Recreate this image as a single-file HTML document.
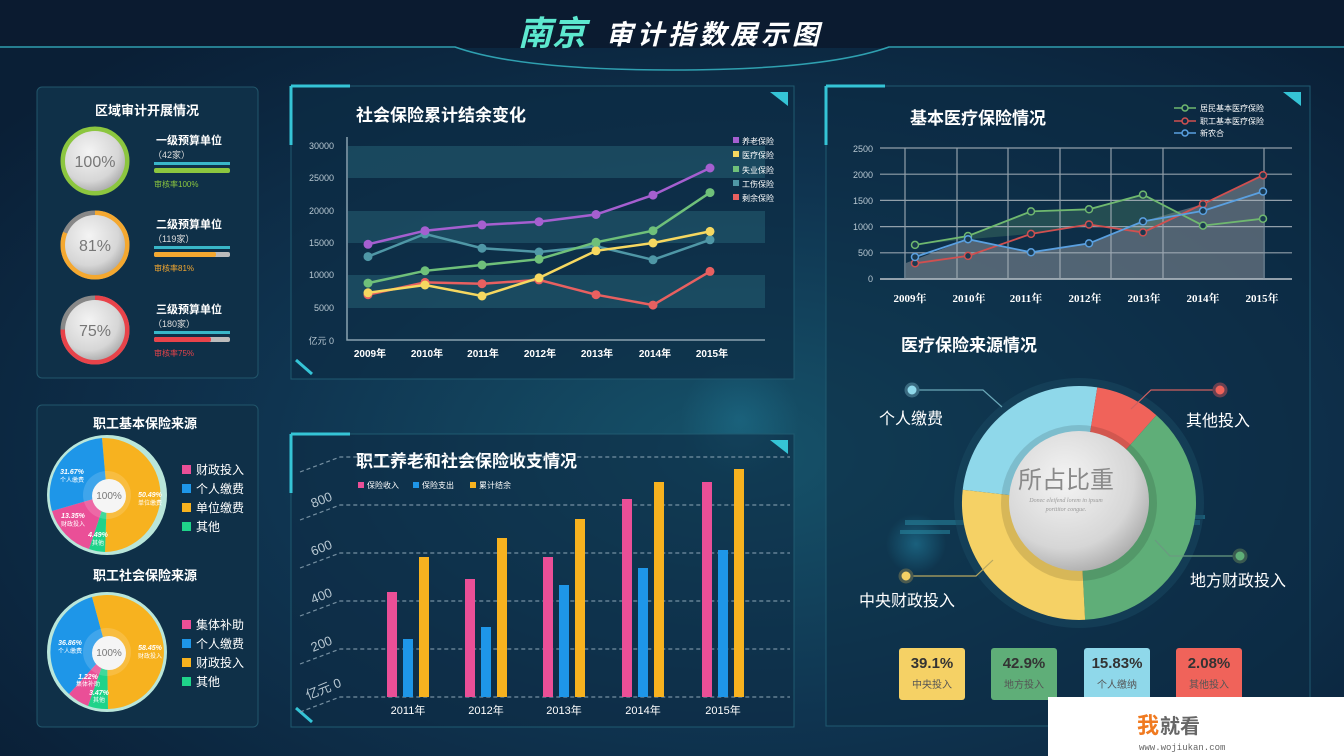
<!DOCTYPE html>
<html><head><meta charset="utf-8"><style>
html,body{margin:0;padding:0;width:1344px;height:756px;overflow:hidden;background:#0c2238}
svg{display:block;font-family:"Liberation Sans","Noto Sans CJK SC",sans-serif}
</style></head><body>
<svg width="1344" height="756" viewBox="0 0 1344 756" xmlns="http://www.w3.org/2000/svg">
<defs>
<radialGradient id="bg" cx="0.55" cy="0.6" r="0.7">
<stop offset="0" stop-color="#16536a"/><stop offset="0.5" stop-color="#0f3450"/><stop offset="1" stop-color="#0a1f36"/>
</radialGradient>
<radialGradient id="ball" cx="0.4" cy="0.35" r="0.7">
<stop offset="0" stop-color="#f4f4f4"/><stop offset="0.7" stop-color="#d6d6d6"/><stop offset="1" stop-color="#a9a9a9"/>
</radialGradient>
<radialGradient id="glow" cx="0.5" cy="0.5" r="0.5">
<stop offset="0" stop-color="#3ad6ff" stop-opacity="0.9"/><stop offset="1" stop-color="#3ad6ff" stop-opacity="0"/>
</radialGradient>
</defs>
<rect width="1344" height="756" fill="url(#bg)"/>
<rect width="1344" height="48" fill="#0b1b30"/>
<path d="M0 47 L455 47 Q520 70 672 70 Q824 70 889 47 L1344 47" fill="none" stroke="#2fa0b0" stroke-width="1.5"/>
<text x="518" y="45" font-size="34" font-weight="bold" font-style="italic" fill="#5de8cf">南京</text>
<text x="606" y="44" font-size="27" font-weight="bold" font-style="italic" fill="#fff" letter-spacing="4">审计指数展示图</text>

<circle cx="916" cy="544" r="30" fill="url(#glow)" opacity="0.7"/>
<circle cx="740" cy="420" r="60" fill="url(#glow)" opacity="0.15"/>

<!-- Left panel 1 -->
<rect x="37" y="87" width="221" height="291" rx="5" fill="#0f3048" stroke="#22566b"/>
<text x="147" y="115" font-size="13" font-weight="bold" fill="#fff" text-anchor="middle">区域审计开展情况</text>
<g>
<circle cx="95" cy="161" r="32" fill="none" stroke="#8cc63f" stroke-width="5"/>
<circle cx="95" cy="161" r="30" fill="url(#ball)"/>
<text x="95" y="167" font-size="16" fill="#777" text-anchor="middle">100%</text>
<text x="156" y="144" font-size="11" font-weight="bold" fill="#fff">一级预算单位</text>
<text x="153" y="158" font-size="9" fill="#ddd">（42家）</text>
<rect x="154" y="162" width="76" height="3" fill="#39b6c8"/>
<rect x="154" y="168" width="76" height="5" rx="2" fill="#8cc63f"/>
<text x="154" y="187" font-size="8" fill="#8cc63f">审核率100%</text>

<circle cx="95" cy="245" r="32" fill="none" stroke="#888" stroke-width="5"/>
<circle cx="95" cy="245" r="32" fill="none" stroke="#f4a830" stroke-width="5" stroke-dasharray="163 250" transform="rotate(-90 95 245)"/>
<circle cx="95" cy="245" r="30" fill="url(#ball)"/>
<text x="95" y="251" font-size="16" fill="#777" text-anchor="middle">81%</text>
<text x="156" y="228" font-size="11" font-weight="bold" fill="#fff">二级预算单位</text>
<text x="153" y="242" font-size="9" fill="#ddd">（119家）</text>
<rect x="154" y="246" width="76" height="3" fill="#39b6c8"/>
<rect x="154" y="252" width="76" height="5" rx="2" fill="#bbb"/><rect x="154" y="252" width="62" height="5" rx="2" fill="#f4a830"/>
<text x="154" y="271" font-size="8" fill="#f4a830">审核率81%</text>

<circle cx="95" cy="330" r="32" fill="none" stroke="#888" stroke-width="5"/>
<circle cx="95" cy="330" r="32" fill="none" stroke="#e8434a" stroke-width="5" stroke-dasharray="151 250" transform="rotate(-90 95 330)"/>
<circle cx="95" cy="330" r="30" fill="url(#ball)"/>
<text x="95" y="336" font-size="16" fill="#777" text-anchor="middle">75%</text>
<text x="156" y="313" font-size="11" font-weight="bold" fill="#fff">三级预算单位</text>
<text x="153" y="327" font-size="9" fill="#ddd">（180家）</text>
<rect x="154" y="331" width="76" height="3" fill="#39b6c8"/>
<rect x="154" y="337" width="76" height="5" rx="2" fill="#bbb"/><rect x="154" y="337" width="57" height="5" rx="2" fill="#e8434a"/>
<text x="154" y="356" font-size="8" fill="#e8434a">审核率75%</text>
</g>

<!-- Left panel 2 -->
<rect x="37" y="405" width="221" height="322" rx="5" fill="#0f3048" stroke="#22566b"/>
<text x="145" y="428" font-size="13" font-weight="bold" fill="#fff" text-anchor="middle">职工基本保险来源</text>
<circle cx="107" cy="495" r="60" fill="#b9e6da"/>
<path d="M107 495 L102 438 A57 57 0 0 1 105 552Z" fill="#f7b21f"/>
<path d="M107 495 L105 552 A57 57 0 0 1 89 549Z" fill="#1fd38a"/>
<path d="M107 495 L89 549 A57 57 0 0 1 52 511Z" fill="#ea4f97"/>
<path d="M107 495 L52 511 A57 57 0 0 1 102 438Z" fill="#1e96e8"/>
<circle cx="107" cy="495" r="24" fill="#fff" opacity="0.15"/>
<circle cx="109" cy="496" r="17" fill="#f5f5f5"/>
<text x="109" y="499" font-size="10" fill="#777" text-anchor="middle">100%</text>
<text x="72" y="474" font-size="7" font-weight="bold" font-style="italic" fill="#fff" text-anchor="middle">31.67%</text>
<text x="72" y="482" font-size="6" fill="#fff" text-anchor="middle">个人缴费</text>
<text x="150" y="497" font-size="7" font-weight="bold" font-style="italic" fill="#fff" text-anchor="middle">50.49%</text>
<text x="150" y="505" font-size="6" fill="#fff" text-anchor="middle">单位缴费</text>
<text x="73" y="518" font-size="7" font-weight="bold" font-style="italic" fill="#fff" text-anchor="middle">13.35%</text>
<text x="73" y="526" font-size="6" fill="#fff" text-anchor="middle">财政投入</text>
<text x="98" y="537" font-size="7" font-weight="bold" font-style="italic" fill="#fff" text-anchor="middle">4.49%</text>
<text x="98" y="545" font-size="6" fill="#fff" text-anchor="middle">其他</text>
<g font-size="12" fill="#fff">
<rect x="182" y="465" width="9" height="9" fill="#ea4f97"/><text x="196" y="474">财政投入</text>
<rect x="182" y="484" width="9" height="9" fill="#1e96e8"/><text x="196" y="493">个人缴费</text>
<rect x="182" y="503" width="9" height="9" fill="#f7b21f"/><text x="196" y="512">单位缴费</text>
<rect x="182" y="522" width="9" height="9" fill="#1fd38a"/><text x="196" y="531">其他</text>
</g>
<text x="145" y="580" font-size="13" font-weight="bold" fill="#fff" text-anchor="middle">职工社会保险来源</text>
<circle cx="107" cy="652" r="60" fill="#b9e6da"/>
<path d="M107 652 L92 597 A57 57 0 1 1 108 709Z" fill="#f7b21f"/>
<path d="M107 652 L108 709 A57 57 0 0 1 88 706Z" fill="#1fd38a"/>
<path d="M107 652 L88 706 A57 57 0 0 1 69 694Z" fill="#ea4f97"/>
<path d="M107 652 L69 694 A57 57 0 0 1 92 597Z" fill="#1e96e8"/>
<circle cx="107" cy="652" r="24" fill="#fff" opacity="0.15"/>
<circle cx="109" cy="653" r="17" fill="#f5f5f5"/>
<text x="109" y="656" font-size="10" fill="#777" text-anchor="middle">100%</text>
<text x="70" y="645" font-size="7" font-weight="bold" font-style="italic" fill="#fff" text-anchor="middle">36.86%</text>
<text x="70" y="653" font-size="6" fill="#fff" text-anchor="middle">个人缴费</text>
<text x="150" y="650" font-size="7" font-weight="bold" font-style="italic" fill="#fff" text-anchor="middle">58.45%</text>
<text x="150" y="658" font-size="6" fill="#fff" text-anchor="middle">财政投入</text>
<text x="88" y="679" font-size="7" font-weight="bold" font-style="italic" fill="#fff" text-anchor="middle">1.22%</text>
<text x="88" y="686" font-size="6" fill="#fff" text-anchor="middle">集体补助</text>
<text x="99" y="695" font-size="7" font-weight="bold" font-style="italic" fill="#fff" text-anchor="middle">3.47%</text>
<text x="99" y="702" font-size="6" fill="#fff" text-anchor="middle">其他</text>
<g font-size="12" fill="#fff">
<rect x="182" y="620" width="9" height="9" fill="#ea4f97"/><text x="196" y="629">集体补助</text>
<rect x="182" y="639" width="9" height="9" fill="#1e96e8"/><text x="196" y="648">个人缴费</text>
<rect x="182" y="658" width="9" height="9" fill="#f7b21f"/><text x="196" y="667">财政投入</text>
<rect x="182" y="677" width="9" height="9" fill="#1fd38a"/><text x="196" y="686">其他</text>
</g>

<!-- Line chart panel -->
<rect x="291" y="86" width="503" height="293" fill="#0d2c44" fill-opacity="0.7" stroke="#1f5a70"/>
<path d="M291 86 H350 M291 86 V145" stroke="#35c4d6" stroke-width="3"/>
<path d="M770 92 L788 92 L788 106Z" fill="#35c4d6"/>
<path d="M296 360 L312 374" stroke="#35c4d6" stroke-width="3"/>
<text x="356" y="121" font-size="17" font-weight="bold" fill="#fff">社会保险累计结余变化</text>
<g fill="#2a6a7c" fill-opacity="0.45">
<rect x="348" y="146" width="417" height="32"/><rect x="348" y="211" width="417" height="32"/><rect x="348" y="275" width="417" height="33"/>
</g>
<path d="M347 137 V340 H765" stroke="#8aa2b0" fill="none" stroke-width="1.5"/>
<g font-size="9" fill="#b8c8d2" text-anchor="end">
<text x="334" y="149">30000</text><text x="334" y="181">25000</text><text x="334" y="214">20000</text><text x="334" y="246">15000</text><text x="334" y="278">10000</text><text x="334" y="311">5000</text><text x="334" y="344">亿元 0</text>
</g>
<g font-size="10" font-weight="bold" fill="#fff" text-anchor="middle">
<text x="370" y="357">2009年</text><text x="427" y="357">2010年</text><text x="483" y="357">2011年</text><text x="540" y="357">2012年</text><text x="597" y="357">2013年</text><text x="655" y="357">2014年</text><text x="712" y="357">2015年</text>
</g>
<g fill="none" stroke-width="2.5">
<polyline stroke="#4f97a6" points="368,256.6 425,233.9 482,248.2 539,252 596,246.2 653,259.8 710,239.8"/>
<polyline stroke="#e86060" points="368,294.7 425,282.4 482,283.7 539,279.9 596,294.7 653,305.1 710,271.4"/>
<polyline stroke="#f6d860" points="368,292.8 425,285 482,296 539,277.9 596,250.8 653,243 710,231.4"/>
<polyline stroke="#6fc07a" points="368,283.1 425,270.8 482,265 539,259.2 596,242.3 653,230.7 710,192.6"/>
<polyline stroke="#a55fd0" points="368,244.3 425,230.7 482,224.9 539,221.7 596,214.5 653,195.1 710,168"/>
</g>
<g fill="#4f97a6"><circle cx="368" cy="256.6" r="4.5"/><circle cx="425" cy="233.9" r="4.5"/><circle cx="482" cy="248.2" r="4.5"/><circle cx="539" cy="252" r="4.5"/><circle cx="596" cy="246.2" r="4.5"/><circle cx="653" cy="259.8" r="4.5"/><circle cx="710" cy="239.8" r="4.5"/></g>
<g fill="#e86060"><circle cx="368" cy="294.7" r="4.5"/><circle cx="425" cy="282.4" r="4.5"/><circle cx="482" cy="283.7" r="4.5"/><circle cx="539" cy="279.9" r="4.5"/><circle cx="596" cy="294.7" r="4.5"/><circle cx="653" cy="305.1" r="4.5"/><circle cx="710" cy="271.4" r="4.5"/></g>
<g fill="#f6d860"><circle cx="368" cy="292.8" r="4.5"/><circle cx="425" cy="285" r="4.5"/><circle cx="482" cy="296" r="4.5"/><circle cx="539" cy="277.9" r="4.5"/><circle cx="596" cy="250.8" r="4.5"/><circle cx="653" cy="243" r="4.5"/><circle cx="710" cy="231.4" r="4.5"/></g>
<g fill="#6fc07a"><circle cx="368" cy="283.1" r="4.5"/><circle cx="425" cy="270.8" r="4.5"/><circle cx="482" cy="265" r="4.5"/><circle cx="539" cy="259.2" r="4.5"/><circle cx="596" cy="242.3" r="4.5"/><circle cx="653" cy="230.7" r="4.5"/><circle cx="710" cy="192.6" r="4.5"/></g>
<g fill="#a55fd0"><circle cx="368" cy="244.3" r="4.5"/><circle cx="425" cy="230.7" r="4.5"/><circle cx="482" cy="224.9" r="4.5"/><circle cx="539" cy="221.7" r="4.5"/><circle cx="596" cy="214.5" r="4.5"/><circle cx="653" cy="195.1" r="4.5"/><circle cx="710" cy="168" r="4.5"/></g>
<g font-size="8" fill="#fff">
<rect x="733" y="137" width="6" height="6" fill="#a55fd0"/><text x="742" y="144">养老保险</text>
<rect x="733" y="151" width="6" height="6" fill="#f6d860"/><text x="742" y="158">医疗保险</text>
<rect x="733" y="166" width="6" height="6" fill="#6fc07a"/><text x="742" y="173">失业保险</text>
<rect x="733" y="180" width="6" height="6" fill="#4f97a6"/><text x="742" y="187">工伤保险</text>
<rect x="733" y="194" width="6" height="6" fill="#e86060"/><text x="742" y="201">剩余保险</text>
</g>

<!-- Bar chart panel -->
<rect x="291" y="434" width="503" height="293" fill="#0d2c44" fill-opacity="0.6" stroke="#1f5a70"/>
<path d="M291 434 H350 M291 434 V493" stroke="#35c4d6" stroke-width="3"/>
<path d="M770 440 L788 440 L788 454Z" fill="#35c4d6"/>
<path d="M296 708 L312 722" stroke="#35c4d6" stroke-width="3"/>
<text x="356" y="467" font-size="17" font-weight="bold" fill="#fff">职工养老和社会保险收支情况</text>
<g font-size="8" fill="#fff">
<rect x="358" y="482" width="6" height="6" fill="#ea4f97"/><text x="367" y="488">保险收入</text>
<rect x="413" y="482" width="6" height="6" fill="#1e96e8"/><text x="422" y="488">保险支出</text>
<rect x="470" y="482" width="6" height="6" fill="#f7b21f"/><text x="479" y="488">累计结余</text>
</g>
<g stroke="#8fa8b8" stroke-width="1.2" stroke-dasharray="4,3" fill="none" opacity="0.8">
<path d="M300 712 L340 697 H790"/><path d="M300 664 L340 649 H790"/><path d="M300 616 L340 601 H790"/><path d="M300 568 L340 553 H790"/><path d="M300 520 L340 505 H790"/><path d="M300 472 L340 457 H790"/>
</g>
<g font-size="13" fill="#b8c8d2">
<text transform="translate(308,700) rotate(-22)">亿元 0</text>
<text transform="translate(313,652) rotate(-22)">200</text>
<text transform="translate(313,604) rotate(-22)">400</text>
<text transform="translate(313,556) rotate(-22)">600</text>
<text transform="translate(313,508) rotate(-22)">800</text>
</g>
<g fill="#ea4f97"><rect x="387" y="592" width="10" height="105"/><rect x="465" y="579" width="10" height="118"/><rect x="543" y="557" width="10" height="140"/><rect x="622" y="499" width="10" height="198"/><rect x="702" y="482" width="10" height="215"/></g>
<g fill="#1e96e8"><rect x="403" y="639" width="10" height="58"/><rect x="481" y="627" width="10" height="70"/><rect x="559" y="585" width="10" height="112"/><rect x="638" y="568" width="10" height="129"/><rect x="718" y="550" width="10" height="147"/></g>
<g fill="#f7b21f"><rect x="419" y="557" width="10" height="140"/><rect x="497" y="538" width="10" height="159"/><rect x="575" y="519" width="10" height="178"/><rect x="654" y="482" width="10" height="215"/><rect x="734" y="469" width="10" height="228"/></g>
<g font-size="11" fill="#fff" text-anchor="middle">
<text x="408" y="714">2011年</text><text x="486" y="714">2012年</text><text x="564" y="714">2013年</text><text x="643" y="714">2014年</text><text x="723" y="714">2015年</text>
</g>

<!-- Right panel -->
<rect x="826" y="86" width="484" height="640" fill="#0d2c44" fill-opacity="0.55" stroke="#1f5a70"/>
<path d="M826 86 H885 M826 86 V145" stroke="#35c4d6" stroke-width="3"/>
<path d="M1283 92 L1301 92 L1301 106Z" fill="#35c4d6"/>
<text x="910" y="124" font-size="17" font-weight="bold" fill="#fff">基本医疗保险情况</text>
<g font-size="8" fill="#fff">
<line x1="1174" y1="108" x2="1196" y2="108" stroke="#6fb86f" stroke-width="1.5"/><circle cx="1185" cy="108" r="3" fill="#0d2c44" stroke="#6fb86f" stroke-width="1.5"/><text x="1200" y="111">居民基本医疗保险</text>
<line x1="1174" y1="121" x2="1196" y2="121" stroke="#d05050" stroke-width="1.5"/><circle cx="1185" cy="121" r="3" fill="#0d2c44" stroke="#d05050" stroke-width="1.5"/><text x="1200" y="124">职工基本医疗保险</text>
<line x1="1174" y1="133" x2="1196" y2="133" stroke="#5aa0e0" stroke-width="1.5"/><circle cx="1185" cy="133" r="3" fill="#0d2c44" stroke="#5aa0e0" stroke-width="1.5"/><text x="1200" y="136">新农合</text>
</g>
<path d="M906 263 L968 239.2 L1031 252.3 L1089 243.4 L1143 221.4 L1203 204.1 L1263 175.2 V279 H906Z" fill="#8a8f98" fill-opacity="0.55"/>
<path d="M915 244.9 L968 236 L1031 211.4 L1089 209.3 L1143 194.6 L1180 215 L1143 232 L1089 224.5 L1031 233.9 L968 239.2Z" fill="#4f8a6a" fill-opacity="0.35"/>
<g stroke="#aab4bc" stroke-width="1.2" opacity="0.85">
<line x1="880" y1="148" x2="1292" y2="148"/><line x1="880" y1="174.2" x2="1292" y2="174.2"/><line x1="880" y1="200.4" x2="1292" y2="200.4"/><line x1="880" y1="226.6" x2="1292" y2="226.6"/><line x1="880" y1="252.8" x2="1292" y2="252.8"/><line x1="880" y1="279" x2="1292" y2="279" stroke-width="2"/>
<line x1="905" y1="148" x2="905" y2="279"/><line x1="957" y1="148" x2="957" y2="279"/><line x1="1008" y1="148" x2="1008" y2="279"/><line x1="1060" y1="148" x2="1060" y2="279"/><line x1="1111" y1="148" x2="1111" y2="279"/><line x1="1163" y1="148" x2="1163" y2="279"/><line x1="1264" y1="148" x2="1264" y2="279"/>
</g>
<g font-size="9" fill="#b8c8d2" text-anchor="end">
<text x="873" y="152">2500</text><text x="873" y="178">2000</text><text x="873" y="204">1500</text><text x="873" y="230">1000</text><text x="873" y="256">500</text><text x="873" y="282">0</text>
</g>
<g font-size="11" font-weight="bold" fill="#fff" text-anchor="middle" font-family="Liberation Serif,'Noto Serif CJK SC',serif">
<text x="910" y="302">2009年</text><text x="969" y="302">2010年</text><text x="1026" y="302">2011年</text><text x="1085" y="302">2012年</text><text x="1144" y="302">2013年</text><text x="1203" y="302">2014年</text><text x="1262" y="302">2015年</text>
</g>
<g fill="none" stroke-width="1.8">
<polyline stroke="#6fb86f" points="915,244.9 968,236 1031,211.4 1089,209.3 1143,194.6 1203,225.6 1263,218.7"/>
<polyline stroke="#d05050" points="915,263.3 968,255.9 1031,233.9 1089,224.5 1143,232.4 1203,204.1 1263,175.2"/>
<polyline stroke="#5aa0e0" points="915,257 968,239.2 1031,252.3 1089,243.4 1143,221.4 1203,210.9 1263,191.5"/>
</g>
<g fill="#1a3a50" stroke-width="1.5">
<g stroke="#6fb86f"><circle cx="915" cy="244.9" r="3.5"/><circle cx="968" cy="236" r="3.5"/><circle cx="1031" cy="211.4" r="3.5"/><circle cx="1089" cy="209.3" r="3.5"/><circle cx="1143" cy="194.6" r="3.5"/><circle cx="1203" cy="225.6" r="3.5"/><circle cx="1263" cy="218.7" r="3.5"/></g>
<g stroke="#d05050"><circle cx="915" cy="263.3" r="3.5"/><circle cx="968" cy="255.9" r="3.5"/><circle cx="1031" cy="233.9" r="3.5"/><circle cx="1089" cy="224.5" r="3.5"/><circle cx="1143" cy="232.4" r="3.5"/><circle cx="1203" cy="204.1" r="3.5"/><circle cx="1263" cy="175.2" r="3.5"/></g>
<g stroke="#5aa0e0"><circle cx="915" cy="257" r="3.5"/><circle cx="968" cy="239.2" r="3.5"/><circle cx="1031" cy="252.3" r="3.5"/><circle cx="1089" cy="243.4" r="3.5"/><circle cx="1143" cy="221.4" r="3.5"/><circle cx="1203" cy="210.9" r="3.5"/><circle cx="1263" cy="191.5" r="3.5"/></g>
</g>

<text x="901" y="351" font-size="17" font-weight="bold" fill="#fff">医疗保险来源情况</text>
<g fill="#2a8fa8" opacity="0.5">
<rect x="905" y="520" width="60" height="5"/><rect x="900" y="530" width="50" height="4"/><rect x="1160" y="520" width="40" height="5"/><rect x="1175" y="515" width="30" height="4"/>
</g>
<circle cx="1079" cy="503" r="125" fill="#1a4a62" opacity="0.5"/>
<path d="M1079 503 L962.7 489.8 A117 117 0 0 1 1097.3 387.4Z" fill="#8fd8ea"/>
<path d="M1079 503 L1097.3 387.4 A117 117 0 0 1 1156.4 415.2Z" fill="#f0635a"/>
<path d="M1079 503 L1156.4 415.2 A117 117 0 0 1 1085.1 619.8Z" fill="#5fae78"/>
<path d="M1079 503 L1085.1 619.8 A117 117 0 0 1 962.7 489.8Z" fill="#f5d165"/>
<circle cx="1079" cy="503" r="78" fill="#000" opacity="0.12"/>
<circle cx="1079" cy="501" r="70" fill="url(#ball)"/>
<text x="1066" y="488" font-size="24" fill="#8a8a8a" text-anchor="middle">所占比重</text>
<text x="1066" y="502" font-size="6" font-style="italic" fill="#999" text-anchor="middle" font-family="Liberation Serif,serif">Donec eleifend lorem in ipsum</text>
<text x="1066" y="511" font-size="6" font-style="italic" fill="#999" text-anchor="middle" font-family="Liberation Serif,serif">porttitor congue.</text>
<g stroke-width="1.2" fill="none">
<path d="M912 390 H983 L1002 407" stroke="#6aa8b8"/>
<path d="M1220 390 H1151 L1131 409" stroke="#d06060"/>
<path d="M1240 556 H1170 L1155 540" stroke="#6a9a80"/>
<path d="M906 576 H976 L993 560" stroke="#b8a860"/>
</g>
<circle cx="912" cy="390" r="6" fill="#8fd8ea" stroke="#3a6a80" stroke-width="3"/>
<circle cx="1220" cy="390" r="6" fill="#f0635a" stroke="#6a4050" stroke-width="3"/>
<circle cx="1240" cy="556" r="6" fill="#5fae78" stroke="#3a5a50" stroke-width="3"/>
<circle cx="906" cy="576" r="6" fill="#f5d165" stroke="#4a5a50" stroke-width="3"/>
<g font-size="16" fill="#fff">
<text x="879" y="424">个人缴费</text><text x="1186" y="426">其他投入</text><text x="1190" y="586">地方财政投入</text><text x="859" y="606">中央财政投入</text>
</g>
<g font-weight="bold" font-size="15" fill="#333" text-anchor="middle">
<rect x="899" y="648" width="66" height="52" rx="3" fill="#f5d165"/><text x="932" y="668">39.1%</text>
<rect x="991" y="648" width="66" height="52" rx="3" fill="#5fae78"/><text x="1024" y="668">42.9%</text>
<rect x="1084" y="648" width="66" height="52" rx="3" fill="#8fd8ea"/><text x="1117" y="668">15.83%</text>
<rect x="1176" y="648" width="66" height="52" rx="3" fill="#f0635a"/><text x="1209" y="668">2.08%</text>
</g>
<g font-size="10" fill="#555" text-anchor="middle">
<text x="932" y="688">中央投入</text><text x="1024" y="688">地方投入</text><text x="1117" y="688">个人缴纳</text><text x="1209" y="688">其他投入</text>
</g>
<rect x="1048" y="697" width="296" height="59" fill="#fff"/>
<text x="1137" y="733" font-size="22" font-weight="bold" fill="#f07a20">我</text>
<text x="1160" y="733" font-size="20" font-weight="bold" fill="#666">就看</text>
<text x="1139" y="750" font-size="9" fill="#666" font-family="Liberation Mono,monospace">www.wojiukan.com</text>
</svg>
</body></html>
